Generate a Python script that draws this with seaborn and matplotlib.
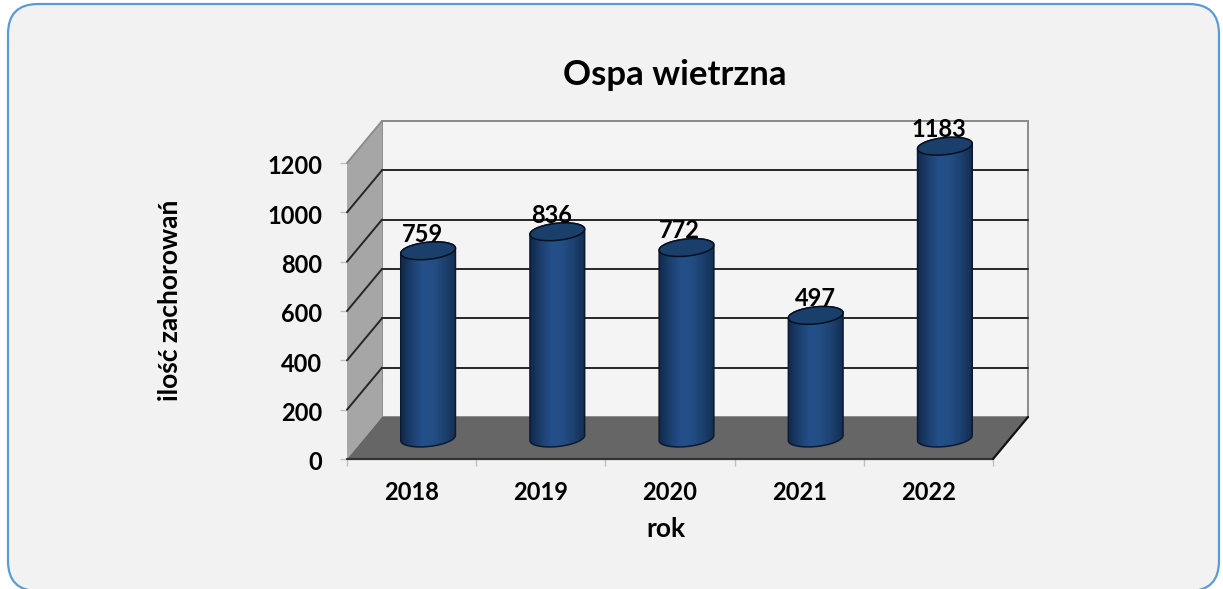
import numpy as np
import pandas as pd
import seaborn as sns
import matplotlib.pyplot as plt
from matplotlib.colors import LinearSegmentedColormap
from matplotlib.patches import Ellipse, FancyBboxPatch, PathPatch, Polygon, Rectangle
from matplotlib.path import Path
from matplotlib.transforms import Affine2D, IdentityTransform

years = ["2018", "2019", "2020", "2021", "2022"]
cases = [759, 836, 772, 497, 1183]
y_ticks = [0, 200, 400, 600, 800, 1000, 1200]

title = "Ospa wietrzna"
x_label = "rok"
y_label = "ilość zachorowań"

W, H = 1223, 589
DEPTH_X, DEPTH_Y = 35, 42   # pixel offset of the back wall from the front plane
BAR_A, BAR_B, BAR_TILT = 27.5, 8.5, 6   # cylinder end ellipse, pixels
LABEL_DX = [-7, -7, -8, -1, -7]

sns.set_theme(style="white")
plt.rcParams["font.family"] = ["Lato", "DejaVu Sans"]
plt.rcParams["font.weight"] = "bold"
plt.rcParams["axes.unicode_minus"] = False

fig = plt.figure(figsize=(W / 100, H / 100), dpi=100, facecolor="white")
identity = IdentityTransform()

# rounded panel behind everything
fig.add_artist(FancyBboxPatch((8 + 30, -2 + 30), 1211 - 60, 587 - 60,
                              boxstyle="round,pad=30,rounding_size=30", transform=identity,
                              facecolor="#F2F2F2", edgecolor="#5B9BD5", linewidth=1.6, zorder=-1))


def plane_axes(shift_x, shift_y):
    return fig.add_axes([(347 + shift_x) / W, (130 + shift_y) / H, 646 / W, 296 / H])


# front plane carries the ticks, the walls hang off its scales
ax = plane_axes(0, 0)
ax.set_xlim(-0.5, 4.5)
ax.set_ylim(0, 1200)
ax.patch.set_alpha(0)
for side in ax.spines.values():
    side.set_visible(False)

back = ax.transData + Affine2D().translate(DEPTH_X, DEPTH_Y)
fl, fr, ft = ax.transData.transform([(-0.5, 0), (4.5, 0), (-0.5, 1200)])
depth = np.array([DEPTH_X, DEPTH_Y])

ax.add_patch(Rectangle((-0.5, 0), 5, 1200, transform=back, facecolor="#F4F4F4",
                       edgecolor="#8C8C8C", linewidth=1.4, clip_on=False, zorder=1))
ax.add_patch(Polygon([fl, fl + depth, ft + depth, ft], transform=identity, facecolor="#A6A6A6",
                     edgecolor="none", clip_on=False, zorder=1))
ax.add_patch(Polygon([fl, fr, fr + depth, fl + depth], transform=identity, facecolor="#666666",
                     edgecolor="none", clip_on=False, zorder=2))

for v in y_ticks:
    start = ax.transData.transform((-0.5, v))
    shade = "#262626" if 0 < v < 1200 else "#8C8C8C"
    if v > 0:
        ax.plot([-0.5, 4.5], [v, v], transform=back, color=shade, lw=1.4, clip_on=False, zorder=1.5)
        ax.plot([start[0], start[0] + DEPTH_X], [start[1], start[1] + DEPTH_Y], transform=identity,
                color=shade, lw=1.4, clip_on=False, zorder=1.5)

ax.plot([fl[0], fr[0]], [fl[1], fr[1]], transform=identity, color="#333333", lw=1.6,
        clip_on=False, zorder=3)
ax.plot([fr[0], fr[0] + DEPTH_X], [fr[1], fr[1] + DEPTH_Y], transform=identity, color="#111111",
        lw=1.6, clip_on=False, zorder=3)

ax.set_yticks(y_ticks)
ax.set_xticks(np.arange(-0.5, 5), labels=[""] * 6)
ax.set_xticks(range(5), labels=years, minor=True)
ax.tick_params(axis="x", which="major", length=5, width=1, color="#BFBFBF", bottom=True)
ax.tick_params(axis="x", which="minor", length=0, labelsize=17, pad=16, labelcolor="black")
ax.tick_params(axis="y", length=5, width=1, color="#BFBFBF", left=True, labelsize=17, pad=13,
               labelcolor="black")
# the y labels sit a little under their ticks in the original
for tick in ax.yaxis.get_major_ticks():
    tick.label1.set_transform(tick.label1.get_transform() + Affine2D().translate(0, -2))

# bars stand half way into the depth of the chart
ax_bars = plane_axes(DEPTH_X / 2 - 1, DEPTH_Y / 2)
df = pd.DataFrame({"year": years, "cases": cases})
sns.barplot(data=df, x="year", y="cases", ax=ax_bars, width=55 / 129.2, color="#1F497D",
            linewidth=0, saturation=1)
ax_bars.set_xlim(-0.5, 4.5)
ax_bars.set_ylim(0, 1200)
ax_bars.patch.set_alpha(0)
ax_bars.axis("off")

shade_cmap = LinearSegmentedColormap.from_list(
    "cyl", ["#122A4C", "#1C3F6E", "#24508A", "#234D84", "#1C416F", "#142E52"])
angle = np.radians(BAR_TILT)
t = np.linspace(0, np.pi, 40)
arc = np.column_stack([BAR_A * np.cos(t) * np.cos(angle) - BAR_B * np.sin(t) * np.sin(angle),
                       BAR_A * np.cos(t) * np.sin(angle) + BAR_B * np.sin(t) * np.cos(angle)])

for bar, value, shift in zip(ax_bars.patches, cases, LABEL_DX):
    ext = bar.get_window_extent()
    cx = (ext.x0 + ext.x1) / 2
    top = np.array([cx, ext.y1])
    bottom = np.array([cx, ext.y0])
    # outline: upper half of the top ellipse, then lower half of the base ellipse
    verts = np.vstack([top + arc, bottom - arc])
    outline = Path(np.vstack([verts, verts[:1]]))
    bar.set_clip_path(outline, identity)

    x0, x1 = bar.get_x(), bar.get_x() + bar.get_width()
    img = ax_bars.imshow(np.linspace(0, 1, 64)[None, :], cmap=shade_cmap, aspect="auto",
                         extent=(x0, x1, -60, value + 60), zorder=3)
    img.set_clip_box(fig.bbox)
    img.set_clip_path(outline, identity)

    ax_bars.add_patch(PathPatch(outline, transform=identity, facecolor="none",
                                edgecolor="#0B1A30", linewidth=1.1, clip_on=False, zorder=4))
    ax_bars.add_patch(Ellipse(top, 2 * BAR_A, 2 * BAR_B, angle=BAR_TILT, transform=identity,
                              facecolor="#1A3F6B", edgecolor="#06101F", linewidth=1.1,
                              clip_on=False, zorder=5))
    ax_bars.annotate(str(value), xy=(bar.get_x() + bar.get_width() / 2, value),
                     xytext=(shift * 0.72 + 0.7, 12), textcoords="offset points", ha="center",
                     va="center", fontsize=17, fontweight="bold", color="black", zorder=6,
                     annotation_clip=False)

ax_bars.set_xlim(-0.5, 4.5)
ax_bars.set_ylim(0, 1200)

fig.text(675 / W, 1 - 75 / H, title, ha="center", va="center", fontsize=25, fontweight="bold",
         color="black")
fig.text(666 / W, 1 - 529 / H, x_label, ha="center", va="center", fontsize=19, fontweight="bold",
         color="black")
fig.text(170 / W, 1 - 300 / H, y_label, ha="center", va="center", rotation=90, fontsize=19,
         fontweight="bold", color="black")

fig.savefig("out.png", dpi=100, facecolor="white")
